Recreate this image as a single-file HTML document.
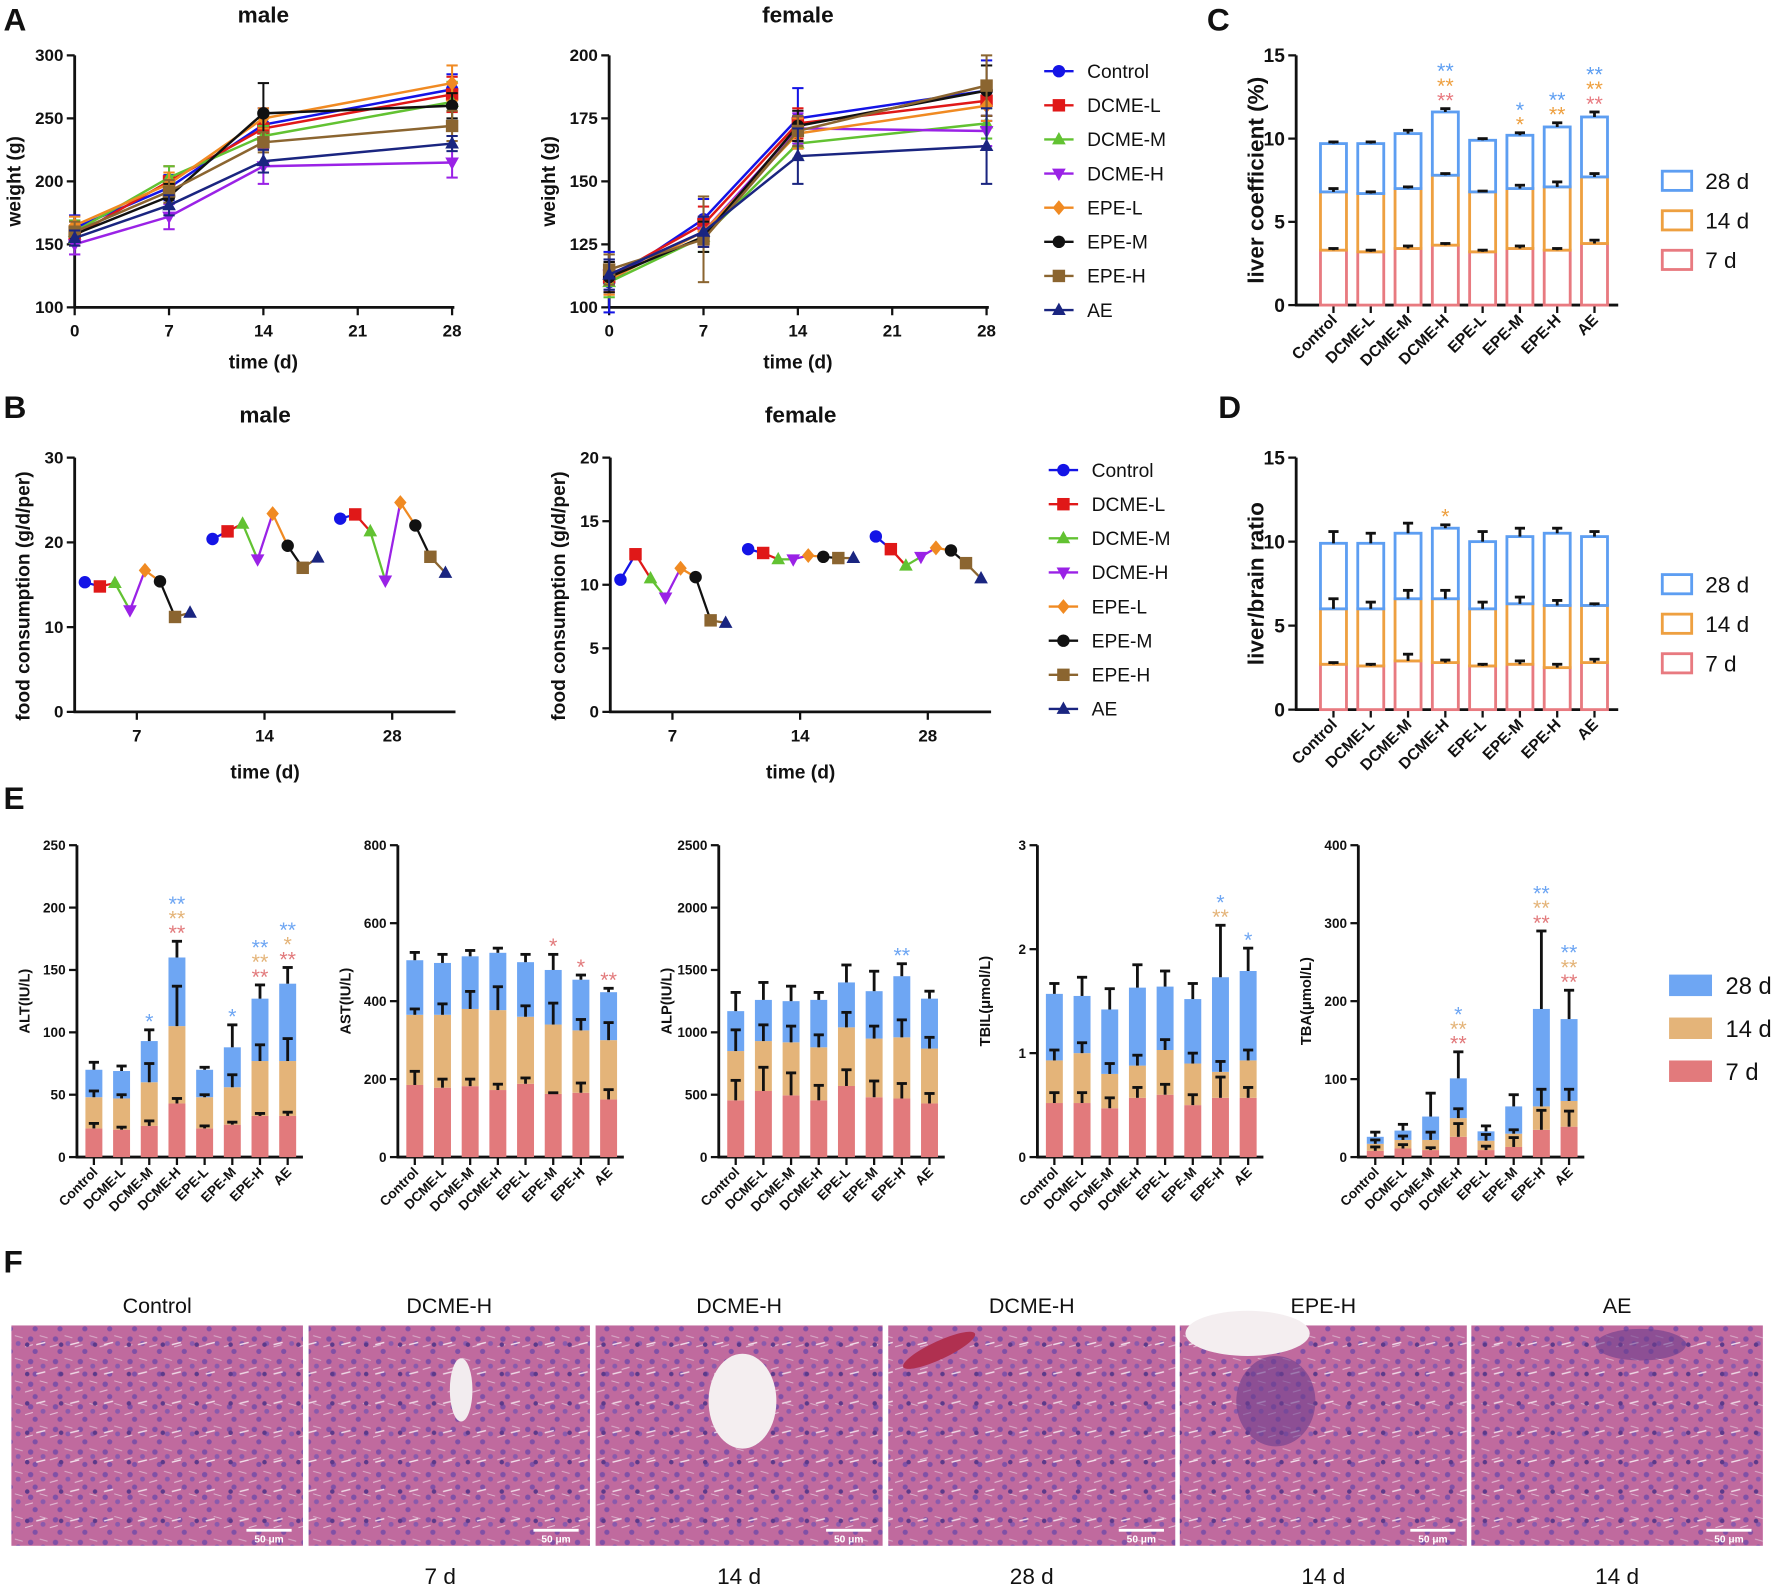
<!DOCTYPE html>
<html><head><meta charset="utf-8"><title>Liver toxicity figure</title>
<style>
html,body{margin:0;padding:0;background:#fff;}
svg{display:block;font-family:"Liberation Sans",Arial,sans-serif;}
</style></head>
<body>
<svg id="fig" width="1772" height="1591" viewBox="0 0 1568 1408" xmlns="http://www.w3.org/2000/svg">
<defs>
<pattern id="tissue" width="22" height="20" patternUnits="userSpaceOnUse">
<rect width="22" height="20" fill="#c06a9e"/>
<circle cx="5" cy="5" r="2.4" fill="#8050a6"/>
<circle cx="16" cy="9" r="2.2" fill="#8a5aac"/>
<circle cx="9" cy="16" r="2.3" fill="#8050a6"/>
<path d="M0 12 L7 10" stroke="#e6c4da" stroke-width="0.9"/>
<path d="M13 2 L20 4" stroke="#dcb6cf" stroke-width="0.8"/>
</pattern>
<pattern id="tissue2" width="30" height="26" patternUnits="userSpaceOnUse">
<rect width="30" height="26" fill="rgba(0,0,0,0)"/>
<path d="M2 20 L10 18" stroke="#f0dce8" stroke-width="1.2"/>
<circle cx="24" cy="20" r="2" fill="#5c3a8a"/>
</pattern>
</defs>
</svg>
<script>
const NS='http://www.w3.org/2000/svg';
const svg=document.getElementById('fig');
function el(tag,attrs,parent){const e=document.createElementNS(NS,tag);for(const k in attrs)e.setAttribute(k,attrs[k]);(parent||svg).appendChild(e);return e;}
function txt(s,x,y,size,opts,parent){const e=el('text',Object.assign({x:x,y:y,'font-size':size,'font-weight':'bold',fill:'#111'},opts||{}),parent);e.textContent=s;return e;}

// ---------- shared data ----------
const groups=['Control','DCME-L','DCME-M','DCME-H','EPE-L','EPE-M','EPE-H','AE'];
const seriesColors=['#1414e6','#e01818','#62c232','#9a22e6','#f08a22','#111111','#8b6530','#1a2580'];
const seriesShapes=['circle','square','tri','tridown','diamond','circle','square','tri'];
const days=[0,7,14,28];
const maleWeight=[[163,195,245,273],[157,200,242,269],[160,203,236,263],[150,172,212,215],[165,198,250,278],[158,188,254,260],[160,192,231,244],[155,181,216,230]];
const maleWeightErr=[[10,10,13,12],[8,12,12,14],[9,9,8,16],[8,10,14,12],[7,9,8,14],[6,10,24,10],[8,9,8,12],[6,8,9,6]];
const femaleWeight=[[110,135,175,186],[112,133,173,182],[110,128,165,173],[113,130,171,170],[111,130,169,180],[112,128,172,186],[115,127,170,188],[113,130,160,164]];
const femaleWeightErr=[[12,8,12,12],[6,7,6,6],[6,6,6,6],[6,6,6,6],[6,6,6,6],[6,6,6,10],[6,17,6,12],[6,6,11,15]];
const foodCats=['7','14','28'];
const maleFood=[[15.3,14.8,15.2,12,16.7,15.4,11.2,11.7],[20.4,21.3,22.2,18,23.4,19.6,17,18.2],[22.8,23.3,21.3,15.5,24.7,22,18.3,16.4]];
const femaleFood=[[10.4,12.4,10.5,9,11.3,10.6,7.2,7],[12.8,12.5,12,12,12.3,12.2,12.1,12.1],[13.8,12.8,11.5,12.2,12.9,12.7,11.7,10.5]];
const weightTicksMale=[100,150,200,250,300];
const weightTicksFemale=[100,125,150,175,200];
const dayTicks=[0,7,14,21,28];

const lc7=[3.3,3.2,3.4,3.6,3.2,3.4,3.3,3.7];
const lc14=[3.5,3.5,3.6,4.2,3.6,3.6,3.8,4.0];
const lc28=[2.9,3.0,3.3,3.8,3.1,3.2,3.6,3.6];
const lcErr=[0.1,0.1,0.2,0.2,0.1,0.15,0.25,0.3];
const lb7=[2.7,2.6,2.9,2.8,2.6,2.7,2.5,2.8];
const lb14=[3.3,3.4,3.7,3.8,3.4,3.6,3.7,3.4];
const lb28=[3.9,3.9,3.9,4.2,4.0,4.0,4.3,4.1];
const lbErr=[0.7,0.6,0.6,0.2,0.6,0.5,0.3,0.3];
const alt7=[23,22,25,43,23,26,33,33],alt14=[25,25,35,62,25,30,44,44],alt28=[22,22,33,55,22,32,50,62];
const ast7=[185,178,182,172,188,162,165,148],ast14=[180,187,198,205,172,178,160,152],ast28=[140,133,135,147,140,140,130,123];
const alp7=[455,530,495,455,570,480,470,430],alp14=[395,400,425,425,470,470,490,440],alp28=[320,330,330,380,360,380,490,400];
const tbil7=[0.52,0.52,0.47,0.57,0.6,0.5,0.57,0.57],tbil14=[0.41,0.48,0.33,0.31,0.43,0.4,0.25,0.36],tbil28=[0.64,0.55,0.62,0.75,0.61,0.62,0.91,0.86];
const tba7=[8,11,9,26,9,13,35,39],tba14=[9,11,13,24,12,17,30,33],tba28=[9,12,30,51,12,35,125,105];

const c28='#5d9ef2',c14='#eea040',c7='#e87a80';
const f28='#6ea6f3',f14='#e4b479',f7='#e27a7c';

function marker(shape,x,y,color,s,parent){
  let m;
  if(shape==='circle') m=el('circle',{cx:x,cy:y,r:s,fill:color},parent);
  else if(shape==='square') m=el('rect',{x:x-s,y:y-s,width:2*s,height:2*s,fill:color},parent);
  else if(shape==='tri') m=el('polygon',{points:`${x},${y-s*1.2} ${x-s*1.1},${y+s*0.8} ${x+s*1.1},${y+s*0.8}`,fill:color},parent);
  else if(shape==='tridown') m=el('polygon',{points:`${x},${y+s*1.2} ${x-s*1.1},${y-s*0.8} ${x+s*1.1},${y-s*0.8}`,fill:color},parent);
  else m=el('polygon',{points:`${x},${y-s*1.2} ${x+s},${y} ${x},${y+s*1.2} ${x-s},${y}`,fill:color},parent);
  return m;
}

function panelLetter(s,x,y){const t=txt(s,x,y,28);}

function weightChart(name,title,x0,x1,yb,yt,ticks,data,errs){
  const g=el('g',{});
  
  
  const ymin=ticks[0],ymax=ticks[ticks.length-1];
  const X=d=>x0+d/28*(x1-x0), Y=v=>yb-(v-ymin)/(ymax-ymin)*(yb-yt);
  const tt=txt(title,(x0+x1)/2,20,20,{'text-anchor':'middle'},g);
  
  el('line',{x1:x0,y1:yt,x2:x0,y2:yb+1,stroke:'#111','stroke-width':2.5},g);
  el('line',{x1:x0-1,y1:yb,x2:x1+2,y2:yb,stroke:'#111','stroke-width':2.5},g);
  ticks.forEach(v=>{el('line',{x1:x0-7,y1:Y(v),x2:x0,y2:Y(v),stroke:'#111','stroke-width':2},g);
    const l=txt(String(v),x0-10,Y(v)+5,15,{'text-anchor':'end'},g);});
  dayTicks.forEach(d=>{el('line',{x1:X(d),y1:yb,x2:X(d),y2:yb+7,stroke:'#111','stroke-width':2},g);
    const l=txt(String(d),X(d),yb+26,15,{'text-anchor':'middle'},g);});
  const yl=txt('weight (g)',0,0,17,{'text-anchor':'middle',transform:`translate(${x0-48},${(yb+yt)/2}) rotate(-90)`},g);
  
  const xl=txt('time (d)',(x0+x1)/2,yb+54,17,{'text-anchor':'middle'},g);
  
  data.forEach((ser,i)=>{
    const c=seriesColors[i];
    const pts=ser.map((v,j)=>X(days[j])+','+Y(v)).join(' ');
    const pl=el('polyline',{points:pts,fill:'none',stroke:c,'stroke-width':2.2},g);
    
    ser.forEach((v,j)=>{
      const e=errs[i][j],x=X(days[j]);
      el('line',{x1:x,y1:Y(v-e),x2:x,y2:Y(v+e),stroke:c,'stroke-width':1.8},g);
      el('line',{x1:x-5,y1:Y(v+e),x2:x+5,y2:Y(v+e),stroke:c,'stroke-width':1.8},g);
      el('line',{x1:x-5,y1:Y(v-e),x2:x+5,y2:Y(v-e),stroke:c,'stroke-width':1.8},g);
      const m=marker(seriesShapes[i],x,Y(v),c,5.5,g);
      
    });
  });
}

function foodChart(name,title,x0,x1,yb,yt,ymax,ticks,cats,data){
  const g=el('g',{});
  
  
  const Y=v=>yb-v/ymax*(yb-yt);
  const catX=[x0+55,x0+168,x0+281];
  const tt=txt(title,(x0+x1)/2,374,20,{'text-anchor':'middle'},g);
  
  el('line',{x1:x0,y1:yt,x2:x0,y2:yb+1,stroke:'#111','stroke-width':2.5},g);
  el('line',{x1:x0-1,y1:yb,x2:x1,y2:yb,stroke:'#111','stroke-width':2.5},g);
  ticks.forEach(v=>{el('line',{x1:x0-7,y1:Y(v),x2:x0,y2:Y(v),stroke:'#111','stroke-width':2},g);
    const l=txt(String(v),x0-10,Y(v)+5,15,{'text-anchor':'end'},g);});
  cats.forEach((c,k)=>{el('line',{x1:catX[k],y1:yb,x2:catX[k],y2:yb+7,stroke:'#111','stroke-width':2},g);
    const l=txt(c,catX[k],yb+26,15,{'text-anchor':'middle'},g);});
  const yl=txt('food consumption (g/d/per)',0,0,17,{'text-anchor':'middle',transform:`translate(${x0-40},${(yb+yt)/2+10}) rotate(-90)`},g);
  
  const xl=txt('time (d)',(x0+x1)/2,yb+59,17,{'text-anchor':'middle'},g);
  
  data.forEach((vals,k)=>{
    const xs=vals.map((v,i)=>catX[k]-46+i*13.3);
    for(let i=0;i<vals.length-1;i++){
      const s=el('line',{x1:xs[i],y1:Y(vals[i]),x2:xs[i+1],y2:Y(vals[i+1]),stroke:seriesColors[i],'stroke-width':2},g);
      
    }
    vals.forEach((v,i)=>{const m=marker(seriesShapes[i],xs[i],Y(v),seriesColors[i],5.5,g);
      });
  });
}

function lineLegend(name,x,y0){
  const g=el('g',{});
  
  
  groups.forEach((n,i)=>{
    const y=y0+i*30.2;
    const it=el('g',{},g);
    
    
    el('line',{x1:x,y1:y,x2:x+26,y2:y,stroke:seriesColors[i],'stroke-width':2.2},it);
    marker(seriesShapes[i],x+13,y,seriesColors[i],5.5,it);
    txt(n,x+38,y+6,17,{'font-weight':'normal'},it);
  });
}

function stacked(name,opt){
  const g=el('g',{});
  
  
  const {x0,yb,yt,ymax,ticks,segs,errs,fills,outline,bw,sp,off,len,ylabel,fs,sig,lfs}=opt;
  const Y=v=>yb-v/ymax*(yb-yt);
  el('line',{x1:x0,y1:yt,x2:x0,y2:yb+1,stroke:'#111','stroke-width':2.5},g);
  el('line',{x1:x0-1,y1:yb,x2:x0+len,y2:yb,stroke:'#111','stroke-width':2.5},g);
  ticks.forEach(v=>{el('line',{x1:x0-7,y1:Y(v),x2:x0,y2:Y(v),stroke:'#111','stroke-width':2},g);
    const l=txt(String(v),x0-10,Y(v)+fs*0.35,fs,{'text-anchor':'end'},g);});
  const yl=txt(ylabel,0,0,lfs,{'text-anchor':'middle',transform:`translate(${opt.ylx},${(yb+yt)/2}) rotate(-90)`},g);
  
  groups.forEach((gn,i)=>{
    const cx=x0+off+i*sp;
    el('line',{x1:cx,y1:yb,x2:cx,y2:yb+7,stroke:'#111','stroke-width':2},g);
    const l=txt(gn,cx+4,yb+14,opt.xfs,{'text-anchor':'end',transform:`rotate(-45 ${cx+4} ${yb+14})`},g);
    
    let base=0;
    segs.forEach((s,k)=>{
      const v=s[i];
      const r=el('rect',{x:cx-bw/2,y:Y(base+v),width:bw,height:Y(base)-Y(base+v)},g);
      if(outline){r.setAttribute('fill','#fff');r.setAttribute('stroke',fills[k]);r.setAttribute('stroke-width',2.5);}
      else r.setAttribute('fill',fills[k]);
      
      base+=v;
    });
    let b2=0;
    segs.forEach((s,k)=>{
      b2+=s[i];
      const e=errs[k][i];
      el('line',{x1:cx,y1:Y(b2),x2:cx,y2:Y(b2+e),stroke:'#111','stroke-width':2.5},g);
      el('line',{x1:cx-4.5,y1:Y(b2+e),x2:cx+4.5,y2:Y(b2+e),stroke:'#111','stroke-width':2.5},g);
    });
    if(sig){
      let top=Y(b2+errs[2][i])-8;
      [[sig[0],fills[0]],[sig[1],fills[1]],[sig[2],fills[2]]].forEach(([arr,c])=>{
        if(arr[i]){const s=txt(arr[i],cx,top+7,19,{'text-anchor':'middle',fill:c,'font-weight':'normal'},g);
          top-=13;}
      });
    }
  });
}

function boxLegend(name,x,ys,fills,outline,fsz,bw,bh){
  const g=el('g',{});
  
  
  ['28 d','14 d','7 d'].forEach((n,i)=>{
    const it=el('g',{},g);
    
    
    const y=ys[i];
    const r=el('rect',{x:x,y:y-bh/2,width:bw,height:bh},it);
    if(outline){r.setAttribute('fill','#fff');r.setAttribute('stroke',fills[2-i]);r.setAttribute('stroke-width',2.5);}
    else r.setAttribute('fill',fills[2-i]);
    txt(n,x+bw+12,y+fsz*0.36,fsz,{'font-weight':'normal'},it);
  });
}

panelLetter('A',3,27);
weightChart('male-weight-chart','male',66,400,272,49,weightTicksMale,maleWeight,maleWeightErr);
weightChart('female-weight-chart','female',539,873,272,49,weightTicksFemale,femaleWeight,femaleWeightErr);
lineLegend('weight-legend',924,63);

panelLetter('B',3,370);
foodChart('male-food-chart','male',66,403,630,405,30,[0,10,20,30],foodCats,maleFood);
foodChart('female-food-chart','female',540,877,630,405,20,[0,5,10,15,20],foodCats,femaleFood);
lineLegend('food-legend',928,416);

panelLetter('C',1068,27);
const zero8=[0,0,0,0,0,0,0,0];
stacked('liver-coefficient-chart',{x0:1147,yb:270,yt:49,ymax:15,ticks:[0,5,10,15],segs:[lc7,lc14,lc28],
  errs:[[0.1,0.1,0.15,0.1,0.1,0.15,0.1,0.2],[0.2,0.1,0.1,0.1,0.05,0.2,0.3,0.2],lcErr],
  fills:[c7,c14,c28],outline:true,bw:23,sp:33,off:33,len:285,ylabel:'liver coefficient (%)',fs:17,lfs:20,xfs:14,ylx:1118,
  sig:[['','','','**','','','','**'],['','','','**','','*','**','**'],['','','','**','','*','**','**']]});
boxLegend('liver-coefficient-legend',1471,[160,195,230],[c7,c14,c28],true,20,26,17);

panelLetter('D',1078,370);
stacked('liver-brain-ratio-chart',{x0:1147,yb:628,yt:405,ymax:15,ticks:[0,5,10,15],segs:[lb7,lb14,lb28],
  errs:[[0.1,0.1,0.4,0.15,0.1,0.2,0.2,0.2],[0.6,0.4,0.5,0.5,0.4,0.4,0.3,0.1],lbErr],
  fills:[c7,c14,c28],outline:true,bw:23,sp:33,off:33,len:285,ylabel:'liver/brain ratio',fs:17,lfs:20,xfs:14,ylx:1118,
  sig:[zero8.map(()=>''),['','','','*','','','',''],zero8.map(()=>'')]});
boxLegend('liver-brain-legend',1471,[517,552,587],[c7,c14,c28],true,20,26,17);

panelLetter('E',3,716);
const eCharts=[
 {n:'alt-chart',x0:68,ymax:250,ticks:[0,50,100,150,200,250],segs:[alt7,alt14,alt28],lab:'ALT(IU/L)',
  errs:[[4,2,4,4,2,2,2,3],[5,3,15,32,2,10,13,18],[6,4,9,13,2,18,11,13]],
  sig:[['','','','**','','','**','**'],['','','','**','','','**','*'],['','','*','**','','*','**','**']]},
 {n:'ast-chart',x0:352,ymax:800,ticks:[0,200,400,600,800],segs:[ast7,ast14,ast28],lab:'AST(IU/L)',
  errs:[[35,22,18,15,15,3,25,25],[15,28,45,60,28,55,28,45],[20,22,15,12,20,40,12,10]],
  sig:[['','','','','','*','*','**'],zero8.map(()=>''),zero8.map(()=>'')]},
 {n:'alp-chart',x0:636,ymax:2500,ticks:[0,500,1000,1500,2000,2500],segs:[alp7,alp14,alp28],lab:'ALP(IU/L)',
  errs:[[160,190,180,120,130,130,120,80],[170,130,130,100,120,100,140,90],[150,140,120,60,140,160,100,60]],
  sig:[zero8.map(()=>''),zero8.map(()=>''),['','','','','','','**','']]},
 {n:'tbil-chart',x0:918,ymax:3,ticks:[0,1,2,3],segs:[tbil7,tbil14,tbil28],lab:'TBIL(μmol/L)',
  errs:[[0.1,0.1,0.1,0.1,0.1,0.1,0.2,0.1],[0.1,0.1,0.1,0.1,0.1,0.1,0.1,0.1],[0.1,0.18,0.2,0.22,0.15,0.15,0.5,0.22]],
  sig:[zero8.map(()=>''),['','','','','','','**',''],['','','','','','','*','*']]},
 {n:'tba-chart',x0:1202,ymax:400,ticks:[0,100,200,300,400],segs:[tba7,tba14,tba28],lab:'TBA(μmol/L)',
  errs:[[5,5,3,17,5,12,25,20],[5,5,10,12,8,5,22,15],[6,8,30,34,7,15,100,37]],
  sig:[['','','','**','','','**','**'],['','','','**','','','**','**'],['','','','*','','','**','**']]}
];
eCharts.forEach(c=>{
  stacked(c.n,{x0:c.x0,yb:1024,yt:748,ymax:c.ymax,ticks:c.ticks,segs:c.segs,errs:c.errs,fills:[f7,f14,f28],outline:false,
   bw:15,sp:24.5,off:15,len:200,ylabel:c.lab,fs:12,lfs:13,xfs:12,ylx:c.x0-42,sig:c.sig});
});
boxLegend('serum-legend',1477,[872,910,948],[f7,f14,f28],false,21,38,19);

panelLetter('F',3,1126);
const histTitles=['Control','DCME-H','DCME-H','DCME-H','EPE-H','AE'];
const histDays=['','7 d','14 d','28 d','14 d','14 d'];
const histX=[10,273,527,786,1044,1302];
const histW=[258,249,254,254,254,258];
histTitles.forEach((t,i)=>{
  const g=el('g',{});
  
  
  const x=histX[i],w=histW[i];
  const tl=txt(t,x+w/2,1162,19,{'text-anchor':'middle','font-weight':'normal'},g);
  
  el('rect',{x:x,y:1173,width:w,height:195,fill:'url(#tissue)'},g);
  el('rect',{x:x,y:1173,width:w,height:195,fill:'url(#tissue2)'},g);
  if(i===2) el('ellipse',{cx:x+130,cy:1240,rx:30,ry:42,fill:'#f4eef0'},g);
  if(i===4) el('ellipse',{cx:x+60,cy:1180,rx:55,ry:20,fill:'#f4eef0'},g);
  if(i===4) el('ellipse',{cx:x+85,cy:1240,rx:35,ry:40,fill:'#6a3d8e',opacity:0.6},g);
  if(i===1) el('ellipse',{cx:x+135,cy:1230,rx:10,ry:28,fill:'#f2ecef'},g);
  if(i===3) el('ellipse',{cx:x+45,cy:1195,rx:35,ry:8,fill:'#b03050',transform:`rotate(-25 ${x+45} 1195)`},g);
  if(i===5) el('ellipse',{cx:x+150,cy:1190,rx:40,ry:14,fill:'#6a3d8e',opacity:0.6},g);
  el('rect',{x:x+w-50,y:1353,width:40,height:2.5,fill:'#fff'},g);
  txt('50 μm',x+w-30,1365,9,{'text-anchor':'middle',fill:'#fff'},g);
  if(histDays[i]){const d=txt(histDays[i],x+w/2+(i===1?-8:0),1402,20,{'text-anchor':'middle','font-weight':'normal'},g);
    }
});
</script>
</body></html>
